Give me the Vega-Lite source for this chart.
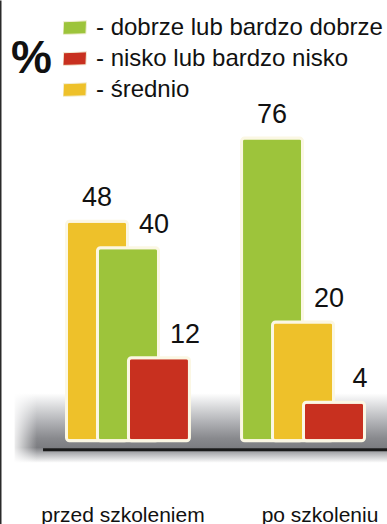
{
  "$schema": "https://vega.github.io/schema/vega-lite/v6.json",
  "width": 387,
  "height": 524,
  "padding": 0,
  "autosize": {"type": "none"},
  "background": "white",
  "config": {"view": {"stroke": null}, "font": "Liberation Sans"},
  "datasets": {
    "bars": [
      {"group": "przed szkoleniem", "category": "średnio", "value": 48},
      {"group": "przed szkoleniem", "category": "dobrze lub bardzo dobrze", "value": 40},
      {"group": "przed szkoleniem", "category": "nisko lub bardzo nisko", "value": 12},
      {"group": "po szkoleniu", "category": "dobrze lub bardzo dobrze", "value": 76},
      {"group": "po szkoleniu", "category": "średnio", "value": 20},
      {"group": "po szkoleniu", "category": "nisko lub bardzo nisko", "value": 4}
    ]
  },
  "layer": [
    {
      "data": {"values": [{}]},
      "mark": {
        "type": "rect",
        "color": {
          "gradient": "linear", "x1": 0, "y1": 0, "x2": 0, "y2": 1,
          "stops": [
            {"offset": 0, "color": "#ffffff"},
            {"offset": 0.2, "color": "#d8d9db"},
            {"offset": 0.45, "color": "#aaabaf"},
            {"offset": 0.65, "color": "#88898d"},
            {"offset": 0.78, "color": "#7c7d81"},
            {"offset": 0.87, "color": "#b4b5b8"},
            {"offset": 1, "color": "#ffffff"}
          ]
        }
      },
      "encoding": {
        "x": {"datum": "przed szkoleniem", "bandPosition": -0.72},
        "x2": {"datum": "po szkoleniu", "bandPosition": 1.5},
        "y": {"datum": 5.4},
        "y2": {"datum": -1.8}
      }
    },
    {
      "data": {"values": [{}]},
      "mark": {
        "type": "rect",
        "color": {
          "gradient": "linear", "x1": 0, "y1": 0, "x2": 1, "y2": 0,
          "stops": [
            {"offset": 0, "color": "#ffffff"},
            {"offset": 1, "color": "rgba(255,255,255,0)"}
          ]
        }
      },
      "encoding": {
        "x": {"datum": "przed szkoleniem", "bandPosition": -0.76},
        "x2": {"datum": "przed szkoleniem", "bandPosition": -0.48},
        "y": {"datum": 5.6},
        "y2": {"datum": -1.9}
      }
    },
    {
      "data": {"values": [{}]},
      "mark": {"type": "rule", "color": "#1a1a1a", "strokeWidth": 3},
      "encoding": {
        "x": {"datum": "przed szkoleniem", "bandPosition": -0.414},
        "x2": {"datum": "po szkoleniu", "bandPosition": 1.5},
        "y": {"datum": -0.5}
      }
    },
    {
      "data": {"name": "bars"},
      "transform": [
        {"window": [{"op": "row_number", "as": "rank"}], "groupby": ["group"], "sort": [{"field": "value", "order": "descending"}]}
      ],
      "mark": {"type": "bar", "width": 61, "stroke": "#fbf7e4", "strokeWidth": 3, "cornerRadius": 3},
      "encoding": {
        "x": {
          "field": "group", "type": "nominal",
          "scale": {"domain": ["przed szkoleniem", "po szkoleniu"], "paddingInner": 0.469, "paddingOuter": 0.2343, "range": [40.5, 390.5]},
          "axis": {
            "title": null, "domain": false, "ticks": false, "labelFontSize": 21, "labelColor": "#111",
            "labelPadding": 21, "offset": -24, "labelBaseline": "alphabetic", "labelAngle": 0, "labelAlign": "center",
            "labelOffset": {"condition": {"test": "datum.value == 'przed szkoleniem'", "value": -5}, "value": 17}
          }
        },
        "xOffset": {"field": "rank", "type": "ordinal", "scale": {"domain": [1, 2, 3], "paddingInner": 0, "paddingOuter": 0}},
        "y": {
          "field": "value", "type": "quantitative",
          "scale": {"type": "pow", "exponent": 0.7, "domain": [-12, 130], "nice": false, "zero": false},
          "axis": {"title": null, "domain": true, "domainColor": "#2a2a2a", "domainWidth": 2, "ticks": false, "labels": false, "grid": false}
        },
        "color": {
          "field": "category", "type": "nominal",
          "scale": {"domain": ["dobrze lub bardzo dobrze", "nisko lub bardzo nisko", "średnio"], "range": ["#9dc43b", "#c8301f", "#eec12a"]},
          "legend": {
            "orient": "none", "legendX": 11, "legendY": 12,
            "title": "%", "titleOrient": "left", "titleAngle": 0, "titleFontSize": 46, "titleFontWeight": "bold",
            "titleColor": "#111", "titleAnchor": "middle", "titlePadding": 11, "titleBaseline": "middle",
            "labelExpr": "'- ' + datum.label", "labelFontSize": 24, "labelColor": "#111", "labelOffset": 9, "labelLimit": 400,
            "rowPadding": 0, "clipHeight": 31,
            "symbolType": "M-1,-0.5L1,-0.58L0.95,0.55L-1.05,0.6Z", "symbolSize": 529,
            "symbolStrokeColor": "#f3efd8", "symbolStrokeWidth": 1, "symbolOpacity": 1
          }
        }
      }
    },
    {
      "data": {"name": "bars"},
      "transform": [
        {"window": [{"op": "row_number", "as": "rank"}], "groupby": ["group"], "sort": [{"field": "value", "order": "descending"}]},
        {"filter": "datum.rank == 1"}
      ],
      "mark": {"type": "text", "fontSize": 27, "dy": -15, "baseline": "alphabetic", "color": "#111"},
      "encoding": {
        "x": {"field": "group", "type": "nominal"},
        "xOffset": {"field": "rank", "type": "ordinal"},
        "y": {"field": "value", "type": "quantitative"},
        "text": {"field": "value", "type": "quantitative"}
      }
    },
    {
      "data": {"name": "bars"},
      "transform": [
        {"window": [{"op": "row_number", "as": "rank"}], "groupby": ["group"], "sort": [{"field": "value", "order": "descending"}]},
        {"filter": "datum.rank > 1"}
      ],
      "mark": {"type": "text", "fontSize": 27, "dx": 26, "dy": -15, "baseline": "alphabetic", "color": "#111"},
      "encoding": {
        "x": {"field": "group", "type": "nominal"},
        "xOffset": {"field": "rank", "type": "ordinal"},
        "y": {"field": "value", "type": "quantitative"},
        "text": {"field": "value", "type": "quantitative"}
      }
    }
  ]
}
